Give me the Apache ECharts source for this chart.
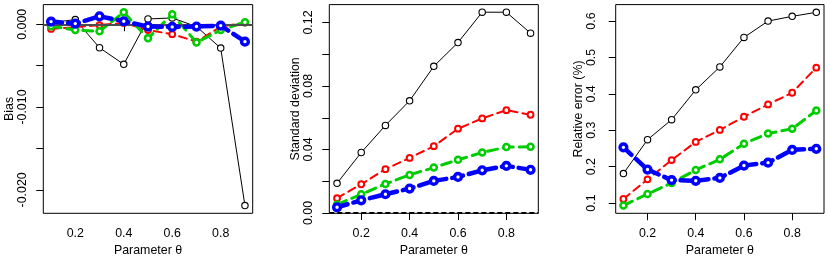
<!DOCTYPE html>
<html><head><meta charset="utf-8">
<script src="https://cdn.jsdelivr.net/npm/echarts@6/dist/echarts.min.js"></script>
<style>html,body{margin:0;padding:0;background:#fff}#c{width:830px;height:259px}</style>
</head><body><div id="c"></div>
<script>
// ---- data ----
const theta = [0.1, 0.2, 0.3, 0.4, 0.5, 0.6, 0.7, 0.8, 0.9];

const biasBlack = [0.0002, 0.00056, -0.00284, -0.00484, 0.00064, 0.00076, -0.00028, -0.00288, -0.0219];
const biasRed   = [-0.00056, -0.00036, -0.0001, 0.00016, -0.0007, -0.0012, -0.0021, -0.0003, 0.0002];
const biasGreen = [-0.00024, -0.0007, -0.00084, 0.00144, -0.0017, 0.0012, -0.0022, -0.0007, 0.00024];
const biasBlue  = [0.00032, 0.00008, 0.00096, 0.00036, -0.00028, -0.00032, -0.00028, -0.00016, -0.0021];

const sdBlack = [0.0187, 0.0381, 0.0552, 0.0707, 0.0924, 0.1074, 0.1265, 0.1265, 0.1133];
const sdRed   = [0.0093, 0.0181, 0.0276, 0.0347, 0.0421, 0.0531, 0.0596, 0.0648, 0.0619];
const sdGreen = [0.0053, 0.0118, 0.0183, 0.0240, 0.0286, 0.0335, 0.0381, 0.0415, 0.0417];
const sdBlue  = [0.0036, 0.0080, 0.0118, 0.0154, 0.0202, 0.0227, 0.0269, 0.0297, 0.0272];

const reBlack = [0.181, 0.274, 0.329, 0.411, 0.474, 0.555, 0.600, 0.613, 0.624];
const reRed   = [0.111, 0.165, 0.218, 0.268, 0.301, 0.337, 0.371, 0.403, 0.472];
const reGreen = [0.093, 0.125, 0.155, 0.191, 0.220, 0.263, 0.291, 0.304, 0.354];
const reBlue  = [0.253, 0.192, 0.163, 0.161, 0.169, 0.203, 0.211, 0.246, 0.249];

const xTicks = [0.2, 0.4, 0.6, 0.8];
const biasTicks = [0, -0.005, -0.01, -0.015, -0.02];
const biasLabels = [0, -0.01, -0.02];
const sdTicks = [0, 0.02, 0.04, 0.06, 0.08, 0.10, 0.12];
const sdLabels = [0, 0.04, 0.08, 0.12];
const reTicks = [0.1, 0.2, 0.3, 0.4, 0.5, 0.6];
const sdRange = [-0.0002, 0.1313];

const xTitle = 'Parameter θ';
const yTitles = ['Bias', 'Standard deviation', 'Relative error (%)'];

// ---- styles ----
const FONT = "'Liberation Sans', Arial, Helvetica, sans-serif";
const FS = 12.4;
const seriesStyles = [
  { color: '#000000', width: 1,   type: 'solid', size: 6.4, bw: 1.1 },
  { color: '#ff0000', width: 2,   type: [8, 5],  size: 5.8, bw: 2 },
  { color: '#00cd00', width: 3,   type: [10, 6], size: 6,   bw: 2.5 },
  { color: '#0000ff', width: 4.5, type: [11, 6], size: 6.8, bw: 3.4 }
];

function ext(arrs) {
  let lo = Infinity, hi = -Infinity;
  arrs.forEach(a => a.forEach(v => { lo = Math.min(lo, v); hi = Math.max(hi, v); }));
  const d = (hi - lo) * 0.04;
  return [lo - d, hi + d];
}
const xr = ext([theta]);

const panels = [
  { sets: [biasBlack, biasRed, biasGreen, biasBlue], ticks: biasTicks, labels: biasLabels, dec: 3,
    left: 43.3, width: 209.4, lblMargin: 15, nameGap: 28, range: null,
    zero: { color: '#4d4d4d', width: 2, type: 'solid' } },
  { sets: [sdBlack, sdRed, sdGreen, sdBlue], ticks: sdTicks, labels: sdLabels, dec: 2,
    left: 329.3, width: 209, lblMargin: 15, nameGap: 28, range: sdRange,
    zero: { color: '#000000', width: 2, type: [5, 3] } },
  { sets: [reBlack, reRed, reGreen, reBlue], ticks: reTicks, labels: reTicks, dec: 1,
    left: 615.7, width: 208.3, lblMargin: 18, nameGap: 30, range: null, zero: null }
];

const grid = [], xAxis = [], yAxis = [], series = [];
panels.forEach((p, i) => {
  grid.push({ left: p.left, top: 4.6, width: p.width, height: 208.7, show: true,
    borderColor: '#000', borderWidth: 1, backgroundColor: 'transparent',
    containLabel: false, outerBoundsMode: 'none' });
  xAxis.push({ type: 'value', gridIndex: i, min: xr[0], max: xr[1],
    splitLine: { show: false }, axisLine: { show: false },
    axisTick: { show: true, inside: false, length: 7, customValues: xTicks, lineStyle: { color: '#000', width: 1 } },
    axisLabel: { show: true, customValues: xTicks, margin: 14, color: '#000', fontFamily: FONT, fontSize: FS,
      formatter: v => v.toFixed(1) },
    name: xTitle, nameLocation: 'middle', nameGap: 30,
    nameTextStyle: { color: '#000', fontFamily: FONT, fontSize: FS } });
  const yr = p.range || ext(p.sets);
  yAxis.push({ type: 'value', gridIndex: i, min: yr[0], max: yr[1],
    splitLine: { show: false }, axisLine: { show: false },
    axisTick: { show: true, inside: false, length: 7, customValues: p.ticks, lineStyle: { color: '#000', width: 1 } },
    axisLabel: { show: true, customValues: p.labels, rotate: 90, margin: p.lblMargin, color: '#000',
      fontFamily: FONT, fontSize: FS, formatter: v => Number(v).toFixed(p.dec) },
    name: yTitles[i], nameLocation: 'middle', nameGap: p.nameGap,
    nameTextStyle: { color: '#000', fontFamily: FONT, fontSize: FS } });
  if (p.zero) {
    series.push({ type: 'line', xAxisIndex: i, yAxisIndex: i, data: [], silent: true,
      markLine: { silent: true, symbol: 'none', animation: false, label: { show: false },
        lineStyle: p.zero, emphasis: { disabled: true }, data: [{ yAxis: 0 }] } });
  }
  p.sets.forEach((vals, k) => {
    const s = seriesStyles[k];
    series.push({ type: 'line', xAxisIndex: i, yAxisIndex: i,
      data: theta.map((t, j) => [t, vals[j]]),
      symbol: 'circle', symbolSize: s.size, showSymbol: true,
      lineStyle: { color: s.color, width: s.width, type: s.type, cap: 'round', join: 'round' },
      itemStyle: { color: '#ffffff', borderColor: s.color, borderWidth: s.bw },
      emphasis: { disabled: true }, silent: true, z: 2 + k });
  });
});

const chart = echarts.init(document.getElementById('c'), null, { renderer: 'canvas' });
chart.setOption({ animation: false, backgroundColor: '#fff', grid, xAxis, yAxis, series });
</script></body></html>
